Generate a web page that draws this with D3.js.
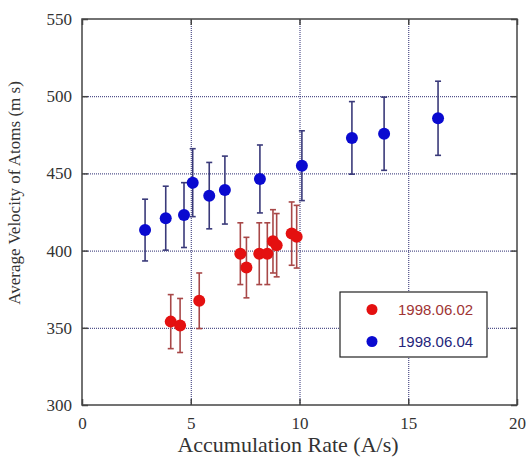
<!DOCTYPE html>
<html>
<head>
<meta charset="utf-8">
<script src="https://cdn.jsdelivr.net/npm/d3@7"></script>
<style>
  body { margin: 0; background: #fff; }
</style>
</head>
<body>
<div id="chart"></div>
<script>
// Series 1998.06.02 (red)
var redRate = [4.08, 4.51, 5.39, 7.28, 7.56, 8.15, 8.52, 8.78, 8.95, 9.64, 9.87];
var redVel  = [354, 351.5, 367.5, 398, 389, 398, 398, 406, 403.5, 411, 409];
var redErr  = [17.5, 17.5, 18, 20, 19.6, 20, 20, 20.5, 20.5, 20.5, 20.3];

// Series 1998.06.04 (blue)
var blueRate = [2.9, 3.85, 4.69, 5.09, 5.85, 6.57, 8.18, 10.11, 12.41, 13.89, 16.37];
var blueVel  = [413.3, 421, 423, 444, 435.6, 439.2, 446.4, 455, 473, 475.7, 485.7];
var blueErr  = [20, 20.7, 21, 22, 21.5, 22, 22, 22.6, 23.5, 23.7, 24];

var xTicks = [0, 5, 10, 15, 20];
var yTicks = [300, 350, 400, 450, 500, 550];
var seriesNames = ["1998.06.02", "1998.06.04"];

var margin = { top: 19, right: 9, bottom: 54, left: 82 };
var width = 526 - margin.left - margin.right;
var height = 459 - margin.top - margin.bottom;

var svg = d3.select("#chart")
  .append("svg")
  .attr("width", 526)
  .attr("height", 459)
  .append("g")
  .attr("transform", "translate(" + margin.left + "," + margin.top + ")");

var x = d3.scaleLinear().domain([0, 20]).range([0, width]);
var y = d3.scaleLinear().domain([300, 550]).range([height, 0]);

// dotted grid
var gridColor = "#2a2a70";
svg.append("g")
  .attr("class", "grid")
  .attr("transform", "translate(0," + height + ")")
  .call(d3.axisBottom(x).tickValues([5, 10, 15]).tickSize(-height).tickFormat(""))
  .call(function(g) { g.select(".domain").remove(); })
  .selectAll("line")
  .attr("stroke", gridColor)
  .attr("stroke-width", 1)
  .attr("stroke-dasharray", "1,1");

svg.append("g")
  .attr("class", "grid")
  .call(d3.axisLeft(y).tickValues([350, 400, 450, 500]).tickSize(-width).tickFormat(""))
  .call(function(g) { g.select(".domain").remove(); })
  .selectAll("line")
  .attr("stroke", gridColor)
  .attr("stroke-width", 1)
  .attr("stroke-dasharray", "1,1");

// axes with inward ticks
var axisColor = "#444";
function styleAxis(g) {
  g.select(".domain").remove();
  g.selectAll("line").attr("stroke", axisColor).attr("stroke-width", 1.5);
  g.selectAll("text")
    .style("font-family", "'Liberation Serif', 'Times New Roman', serif")
    .style("font-size", "17px")
    .attr("fill", "#333");
}

svg.append("g")
  .attr("transform", "translate(0," + height + ")")
  .call(d3.axisBottom(x).tickValues(xTicks).tickSize(-6).tickPadding(12))
  .call(styleAxis);

svg.append("g")
  .call(d3.axisLeft(y).tickValues(yTicks).tickSize(-6).tickPadding(10))
  .call(styleAxis);

svg.append("g")
  .call(d3.axisTop(x).tickValues(xTicks).tickSize(-6).tickFormat(""))
  .call(styleAxis);

svg.append("g")
  .attr("transform", "translate(" + width + ",0)")
  .call(d3.axisRight(y).tickValues(yTicks).tickSize(-6).tickFormat(""))
  .call(styleAxis);

// frame
svg.append("rect")
  .attr("width", width)
  .attr("height", height)
  .attr("fill", "none")
  .attr("stroke", axisColor)
  .attr("stroke-width", 1.5);

// series drawing
function drawSeries(rate, vel, err, barColor, dotColor) {
  var data = rate.map(function(r, i) { return { x: r, y: vel[i], e: err[i] }; });
  var g = svg.append("g");
  var cap = 3;

  g.selectAll(".bar")
    .data(data)
    .enter().append("line")
    .attr("x1", function(d) { return x(d.x); })
    .attr("x2", function(d) { return x(d.x); })
    .attr("y1", function(d) { return y(d.y + d.e); })
    .attr("y2", function(d) { return y(d.y - d.e); })
    .attr("stroke", barColor)
    .attr("stroke-width", 1.6);

  [1, -1].forEach(function(s) {
    g.selectAll(".cap" + s)
      .data(data)
      .enter().append("line")
      .attr("x1", function(d) { return x(d.x) - cap; })
      .attr("x2", function(d) { return x(d.x) + cap; })
      .attr("y1", function(d) { return y(d.y + s * d.e); })
      .attr("y2", function(d) { return y(d.y + s * d.e); })
      .attr("stroke", barColor)
      .attr("stroke-width", 1.6);
  });

  g.selectAll("circle")
    .data(data)
    .enter().append("circle")
    .attr("cx", function(d) { return x(d.x); })
    .attr("cy", function(d) { return y(d.y); })
    .attr("r", 6)
    .attr("fill", dotColor);
}

drawSeries(blueRate, blueVel, blueErr, "#3a3a7a", "#0a0ad0");
drawSeries(redRate, redVel, redErr, "#a84848", "#e41010");

// legend
var legend = svg.append("g")
  .attr("transform", "translate(" + (340 - margin.left) + "," + (292 - margin.top) + ")");

legend.append("rect")
  .attr("width", 147)
  .attr("height", 65)
  .attr("fill", "#fff")
  .attr("stroke", "#222")
  .attr("stroke-width", 1.2);

var legendDot = ["#e41010", "#0a0ad0"];
var legendText = ["#a03434", "#24247a"];
seriesNames.forEach(function(name, i) {
  legend.append("circle")
    .attr("cx", 32)
    .attr("cy", 17.5 + i * 32)
    .attr("r", 5.5)
    .attr("fill", legendDot[i]);
  legend.append("text")
    .attr("x", 58)
    .attr("y", 17.5 + i * 32)
    .attr("dy", "0.35em")
    .style("font-family", "'Liberation Sans', Arial, sans-serif")
    .style("font-size", "15px")
    .attr("fill", legendText[i])
    .text(name);
});

// axis titles
svg.append("text")
  .attr("x", 288 - margin.left)
  .attr("y", 452 - margin.top)
  .attr("text-anchor", "middle")
  .style("font-family", "'Liberation Serif', 'Times New Roman', serif")
  .style("font-size", "22px")
  .attr("fill", "#333")
  .text("Accumulation Rate (A/s)");

svg.append("text")
  .attr("transform", "translate(" + (20 - margin.left) + "," + (193 - margin.top) + ") rotate(-90)")
  .attr("text-anchor", "middle")
  .style("font-family", "'Liberation Serif', 'Times New Roman', serif")
  .style("font-size", "17px")
  .attr("fill", "#333")
  .text("Average Velocity of Atoms (m s)");
</script>
</body>
</html>
